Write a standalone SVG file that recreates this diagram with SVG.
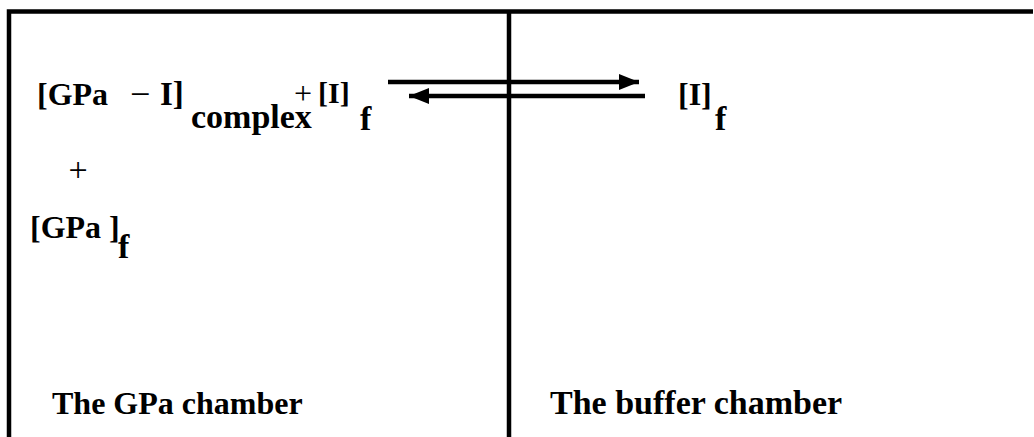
<svg xmlns="http://www.w3.org/2000/svg" width="1034" height="437" viewBox="0 0 1034 437">
<style>
.t{font-family:"Liberation Serif","Times New Roman",serif;font-weight:bold;fill:#000}
.r{font-family:"Liberation Serif","Times New Roman",serif;fill:#000}
.ln{stroke:#000;stroke-width:4.5;fill:none}
.ar{stroke:#000;stroke-width:4.3;fill:none}
</style>
<defs>
<marker id="ah" viewBox="0 0 20 16" refX="20" refY="8" markerUnits="userSpaceOnUse" markerWidth="20" markerHeight="16" orient="auto">
<path d="M0,0 L20,8 L0,16 Z" fill="#000"/>
</marker>
</defs>
<rect width="1034" height="437" fill="#fff"/>
<g id="frame">
<path class="ln" d="M9,437 V11.5 H1033"/>
<path class="ln" d="M509,11.5 V437"/>
</g>
<g id="connectors">
<path class="ar" d="M388,82 H639" marker-end="url(#ah)"/>
<path class="ar" d="M645,96 H409" marker-end="url(#ah)"/>
</g>
<g id="gpa-chamber">
<text class="t" x="37" y="105" font-size="32">[GPa</text>
<text class="r" x="130" y="106" font-size="36">−</text>
<text class="t" x="160" y="105" font-size="33">I]</text>
<text class="t" x="191" y="128" font-size="34">complex</text>
<text class="r" x="303" y="104" font-size="32" text-anchor="middle">+</text>
<text class="t" x="318" y="103" font-size="30">[I]</text>
<text class="t" x="360" y="130" font-size="34">f</text>
<text class="r" x="78" y="181" font-size="34" text-anchor="middle">+</text>
<text class="t" x="30" y="238" font-size="32">[GPa ]</text>
<text class="t" x="118" y="258" font-size="34">f</text>
<text class="t" x="52" y="414" font-size="32">The GPa chamber</text>
</g>
<g id="buffer-chamber">
<text class="t" x="678" y="105" font-size="32">[I]</text>
<text class="t" x="715" y="130" font-size="34">f</text>
<text class="t" x="550" y="414" font-size="34">The buffer chamber</text>
</g>
</svg>
